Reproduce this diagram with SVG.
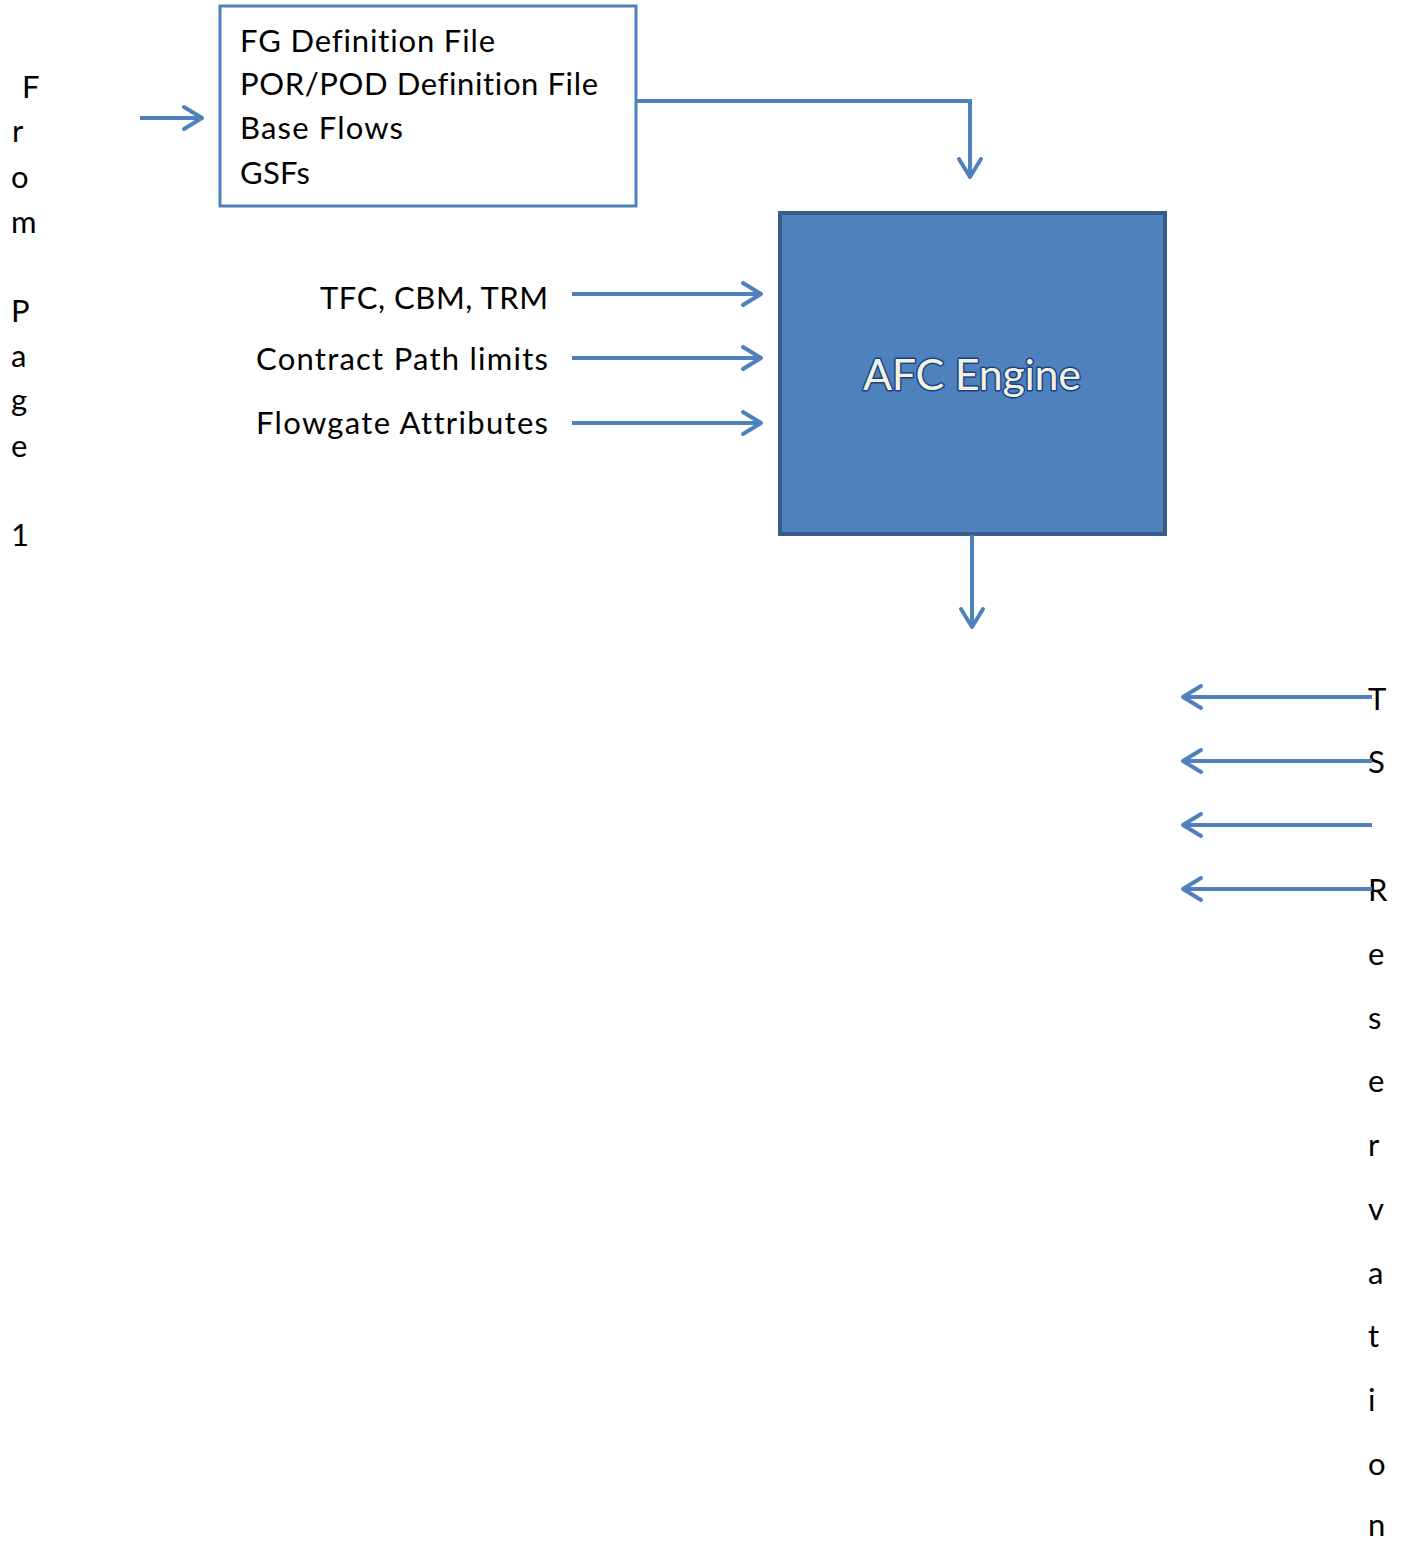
<svg xmlns="http://www.w3.org/2000/svg" width="1401" height="1541" viewBox="0 0 1401 1541">
  <style>
    .lbl { font-family: Lato, "Liberation Sans", sans-serif; font-size: 31px; fill: #000; font-variant-ligatures: none; }
    .vert { font-family: Lato, "Liberation Sans", sans-serif; font-size: 31px; fill: #000; }
    .conn { fill: none; stroke: #4f81bd; stroke-width: 4; marker-end: url(#open); }
    .engine-title { font-family: Lato, "Liberation Sans", sans-serif; font-size: 43px; fill: #f4f1df; stroke: #17428a; stroke-width: 3; stroke-linejoin: round; paint-order: stroke; }
  </style>
  <defs>
    <marker id="open" viewBox="0 0 24 28" refX="22" refY="14" markerWidth="24" markerHeight="28" markerUnits="userSpaceOnUse" orient="auto">
      <path d="M3,3 L21,14 L3,25" fill="none" stroke="#4f81bd" stroke-width="4" stroke-linecap="round" stroke-linejoin="round"/>
    </marker>
  </defs>
  <rect width="1401" height="1541" fill="#fff"/>

  <!-- vertical caption on the left -->
  <g id="from-page-1">
    <text class="vert" x="22" y="98">F</text>
    <text class="vert" x="12" y="142">r</text>
    <text class="vert" x="11" y="188">o</text>
    <text class="vert" x="11" y="233">m</text>
    <text class="vert" x="11" y="322">P</text>
    <text class="vert" x="11" y="367">a</text>
    <text class="vert" x="11" y="411">g</text>
    <text class="vert" x="11" y="457">e</text>
    <text class="vert" x="11" y="546">1</text>
  </g>

  <!-- input file list -->
  <g id="input-files">
    <rect x="220" y="6" width="416" height="200" fill="#fff" stroke="#4f81bd" stroke-width="3"/>
    <text class="lbl" x="240" y="52" textLength="255">FG Definition File</text>
    <text class="lbl" x="240" y="95" textLength="358">POR/POD Definition File</text>
    <text class="lbl" x="240" y="139" textLength="163">Base Flows</text>
    <text class="lbl" x="240" y="184" textLength="70">GSFs</text>
  </g>

  <!-- engine -->
  <g id="afc-engine">
    <rect x="780" y="213" width="385" height="321" fill="#4f81bd" stroke="#385d8a" stroke-width="4"/>
    <text class="engine-title" x="972" y="390" text-anchor="middle" textLength="218">AFC Engine</text>
  </g>

  <!-- side inputs -->
  <g id="side-labels">
    <text class="lbl" x="548" y="309" text-anchor="end" textLength="228">TFC, CBM, TRM</text>
    <text class="lbl" x="548" y="370" text-anchor="end" textLength="292">Contract Path limits</text>
    <text class="lbl" x="548" y="434" text-anchor="end" textLength="292">Flowgate Attributes</text>
  </g>

  <!-- vertical caption on the right -->
  <g id="ts-reservation">
    <text class="vert" x="1368" y="710">T</text>
    <text class="vert" x="1368" y="773">S</text>
    <text class="vert" x="1368" y="901">R</text>
    <text class="vert" x="1368" y="965">e</text>
    <text class="vert" x="1368" y="1029">s</text>
    <text class="vert" x="1368" y="1092">e</text>
    <text class="vert" x="1368" y="1156">r</text>
    <text class="vert" x="1368" y="1220">v</text>
    <text class="vert" x="1368" y="1284">a</text>
    <text class="vert" x="1368" y="1347">t</text>
    <text class="vert" x="1368" y="1411">i</text>
    <text class="vert" x="1368" y="1475">o</text>
    <text class="vert" x="1368" y="1536">n</text>
  </g>

  <g id="connectors">
    <line class="conn" x1="140" y1="118" x2="203" y2="118"/>
    <polyline class="conn" points="636,101 970,101 970,178"/>
    <line class="conn" x1="572" y1="294" x2="762" y2="294"/>
    <line class="conn" x1="572" y1="358" x2="762" y2="358"/>
    <line class="conn" x1="572" y1="423" x2="762" y2="423"/>
    <line class="conn" x1="972" y1="535" x2="972" y2="628"/>
    <line class="conn" x1="1372" y1="697" x2="1182" y2="697"/>
    <line class="conn" x1="1372" y1="761" x2="1182" y2="761"/>
    <line class="conn" x1="1372" y1="825" x2="1182" y2="825"/>
    <line class="conn" x1="1372" y1="889" x2="1182" y2="889"/>
  </g>
</svg>
